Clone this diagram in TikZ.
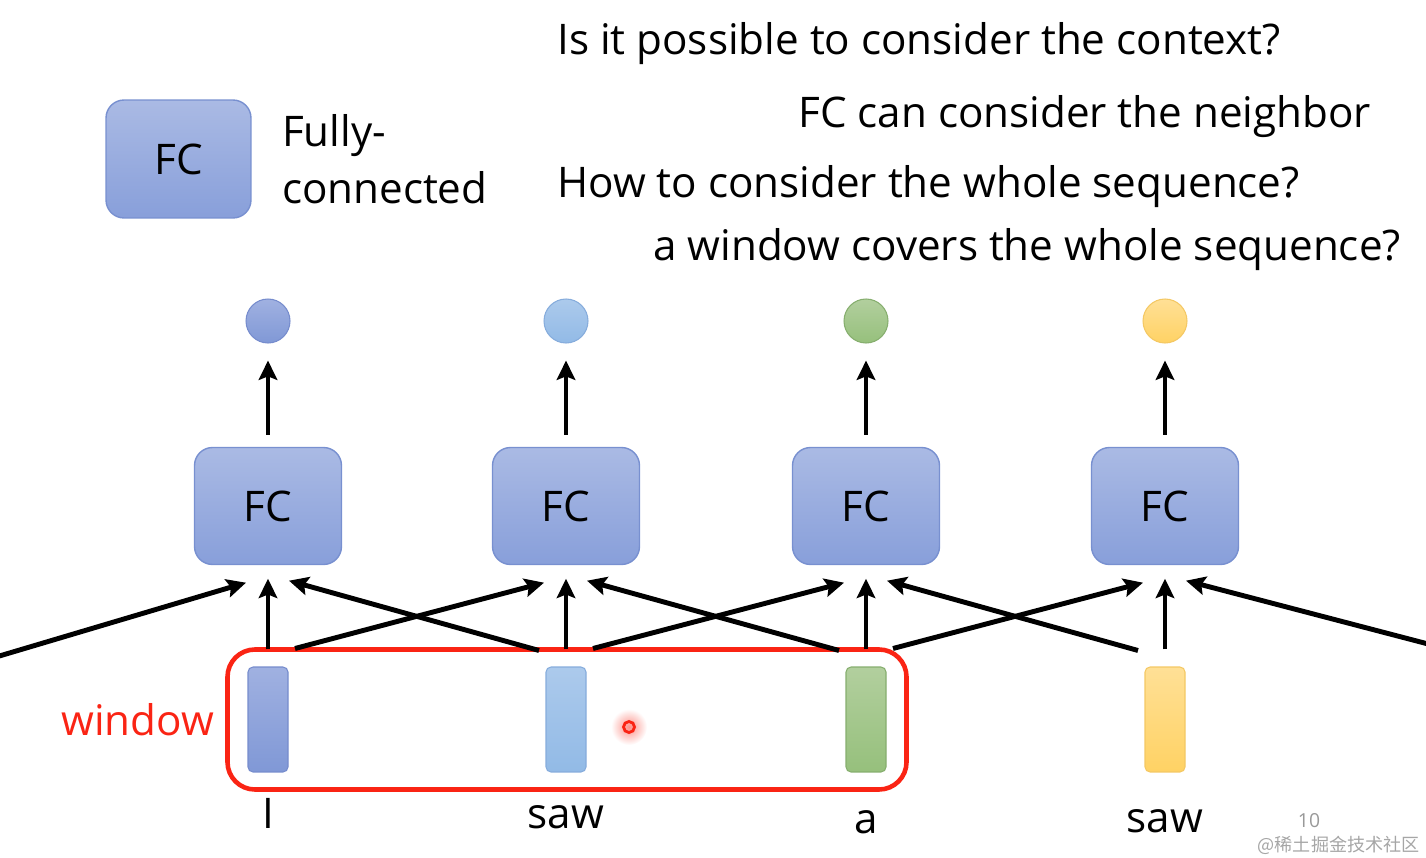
\documentclass[tikz,border=0pt]{standalone}
\usepackage{fontspec}
\setmainfont{Open Sans}
\newfontfamily\cjkfont{Noto Sans CJK SC}
\usetikzlibrary{arrows.meta,fit,positioning}

\definecolor{fctop}{RGB}{170,186,228}
\definecolor{fcbot}{RGB}{136,159,218}
\definecolor{fcline}{RGB}{120,144,208}
\definecolor{tokAtop}{RGB}{160,177,225}
\definecolor{tokAbot}{RGB}{128,152,214}
\definecolor{tokAline}{RGB}{118,140,205}
\definecolor{tokBtop}{RGB}{172,202,236}
\definecolor{tokBbot}{RGB}{146,186,230}
\definecolor{tokBline}{RGB}{134,172,220}
\definecolor{tokCtop}{RGB}{178,207,158}
\definecolor{tokCbot}{RGB}{150,192,124}
\definecolor{tokCline}{RGB}{134,174,110}
\definecolor{tokDtop}{RGB}{255,224,150}
\definecolor{tokDbot}{RGB}{255,210,100}
\definecolor{tokDline}{RGB}{244,200,100}
\definecolor{winred}{RGB}{250,36,20}

\begin{document}
\begin{tikzpicture}[x=0.02cm, y=-0.02cm,
  font=\fontsize{24}{28}\selectfont,
  fcbox/.style={draw=fcline, line width=0.8pt, top color=fctop, bottom color=fcbot,
    rounded corners=0.36cm, minimum width=2.94cm, minimum height=2.34cm},
  tokbar/.style={draw=#1line, line width=0.6pt, top color=#1top, bottom color=#1bot,
    rounded corners=0.1cm, minimum width=0.8cm, minimum height=2.1cm},
  outdot/.style={circle, draw=#1line, line width=0.6pt, top color=#1top, bottom color=#1bot,
    minimum size=0.88cm, inner sep=0pt},
  arr/.style={-{Stealth[length=11pt,width=10.5pt,inset=2pt]}, line width=2.8pt},
  winbox/.style={draw=winred, line width=2.6pt, rounded corners=0.55cm,
    inner xsep=0.4cm, inner ysep=0.34cm},
  wordlbl/.style={anchor=base, inner sep=0pt},
  question/.style={anchor=base west, inner sep=0pt},
]
\useasboundingbox (0,0) rectangle (1426,858);
\clip (0,0) rectangle (1426,858);

% questions at the top
\node[question] (q1) at (557,55) {Is it possible to consider the context?};
\node[question] (q2) at (798,128) {FC can consider the neighbor};
\node[question] (q3) at (557,198) {How to consider the whole sequence?};
\node[question] (q4) at (653,260) {a window covers the whole sequence?};

% legend
\node[fcbox, minimum width=2.9cm, minimum height=2.36cm] (legfc) at (178.5,159) {FC};
\node[right=0.6cm of legfc, align=left, inner sep=0pt,
  font=\fontsize{24}{32.3}\selectfont] (legtxt) {Fully-\\connected};

% tokens, FC layers and outputs
\foreach \i/\x/\c/\w/\b in {1/268/tokA/I/828, 2/566/tokB/saw/828, 3/866/tokC/a/833, 4/1165/tokD/saw/832}{
  \node[fcbox] (fc\i) at (\x,506) {FC};
  \node[outdot=\c] (o\i) at (\x,321) {};
  \node[tokbar=\c] (t\i) at (\x,719.5) {};
  \node[wordlbl] (w\i) at (\x,\b) {\w};
  \draw[arr, shorten <=0.24cm, shorten >=0.34cm] (fc\i) -- (o\i);
  \coordinate (outL\i) at ([xshift=-0.54cm,yshift=0.32cm]t\i.north);
  \coordinate (outM\i) at ([yshift=0.34cm]t\i.north);
  \coordinate (outR\i) at ([xshift=0.54cm,yshift=0.36cm]t\i.north);
  \coordinate (inL\i) at ([xshift=-0.44cm,yshift=-0.35cm]fc\i.south);
  \coordinate (inM\i) at ([yshift=-0.27cm]fc\i.south);
  \coordinate (inR\i) at ([xshift=0.42cm,yshift=-0.31cm]fc\i.south);
}
% neighbours outside the picture
\coordinate (outR0) at (-4,657);
\coordinate (outL5) at (1432,645);

% the window
\node[winbox, fit=(t1)(t3)] (win) {};
\node[left=0.22cm of win, inner sep=0pt, text=winred] (winlbl) {window};
\shade[inner color=winred!50, outer color=white] (629,727) circle (0.36cm);
\draw[winred, line width=1.6pt] (629,727) circle (0.11cm);

% connections into the FC layers
\foreach \i in {1,...,4}{
  \draw[arr] (outM\i) -- (inM\i);
}
\foreach \i/\j in {0/1, 1/2, 2/3, 3/4}{
  \draw[arr] (outR\i) -- (inL\j);
}
\foreach \i/\j in {1/2, 2/3, 3/4, 4/5}{
  \draw[arr] (outL\j) -- (inR\i);
}

% page number and watermark
\node[anchor=base, inner sep=0pt, text=black!40, font=\fontsize{11}{13}\selectfont] (pgno) at (1309,827) {10};
\node[anchor=base east, inner sep=0pt, text=black!35, font=\cjkfont\fontsize{10.3}{12}\selectfont] (wmark) at (1420,851) {@稀土掘金技术社区};
\end{tikzpicture}
\end{document}
